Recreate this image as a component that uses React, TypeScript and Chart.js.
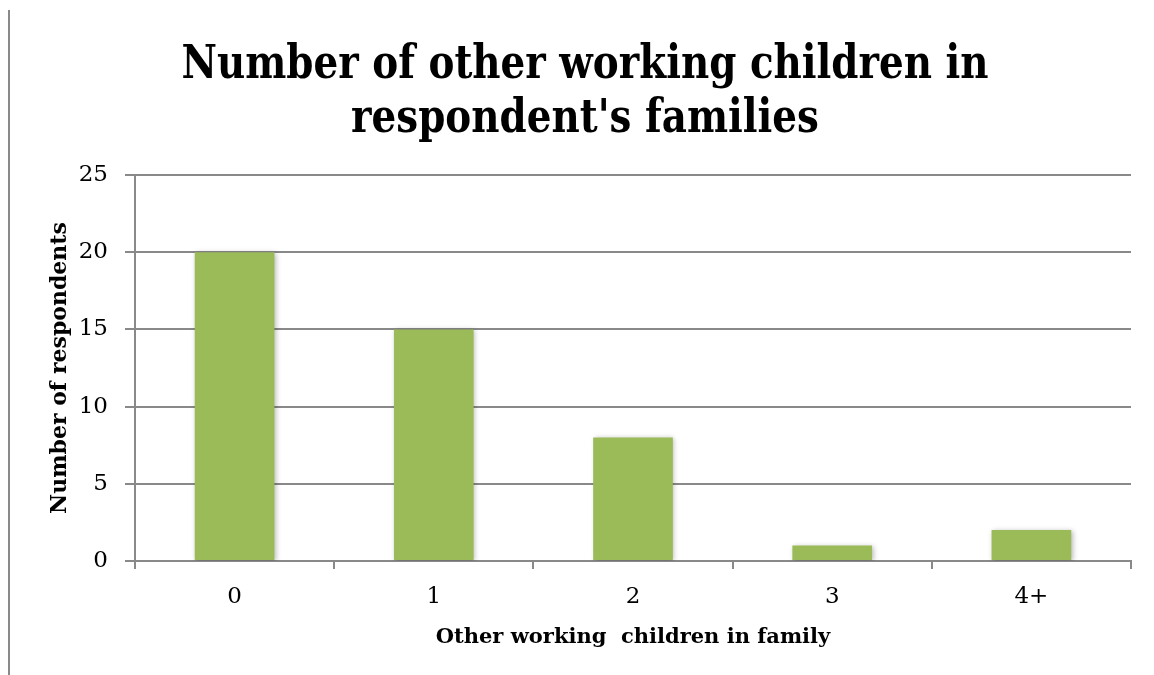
import React, { useEffect, useRef } from "react";
import { Chart, registerables } from "chart.js";

Chart.register(...registerables);

const categories: string[] = ["0", "1", "2", "3", "4+"];
const respondents: number[] = [20, 15, 8, 1, 2];
const yTicks: number[] = [0, 5, 10, 15, 20, 25];
const titleLines: string[] = ["Number of other working children in", "respondent's families"];
const xAxisTitle = "Other working  children in family";
const yAxisTitle = "Number of respondents";

const GRID = "#898989";
const BAR = "#9bbb59";
const SERIF = "'DejaVu Serif', serif";

export default function App() {
  const ref = useRef<HTMLCanvasElement | null>(null);

  useEffect(() => {
    if (!ref.current) return;
    const framePlugin = {
      id: "frame",
      beforeDraw(chart: any) {
        const ctx = chart.ctx;
        ctx.save();
        ctx.fillStyle = GRID;
        ctx.fillRect(0, 2, 2, chart.height - 2);
        ctx.restore();
      },
      afterDraw(chart: any) {
        const ctx = chart.ctx;
        ctx.save();
        ctx.fillStyle = "#000";
        ctx.font = `bold 46px ${SERIF}`;
        ctx.textAlign = "center";
        ctx.textBaseline = "alphabetic";
        ctx.translate(577, 0);
        ctx.scale(0.845, 1);
        ctx.fillText(titleLines[0], 0, 70);
        ctx.fillText(titleLines[1], 0, 124);
        ctx.restore();
      },
    };
    const shadowPlugin = {
      id: "barShadow",
      beforeDatasetsDraw(chart: any) {
        const ctx = chart.ctx;
        ctx.save();
        ctx.shadowColor = "rgba(0,0,0,0.28)";
        ctx.shadowBlur = 5;
        ctx.shadowOffsetX = 1.5;
        ctx.shadowOffsetY = 1;
      },
      afterDatasetsDraw(chart: any) {
        chart.ctx.restore();
      },
    };

    const chart = new Chart(ref.current, {
      type: "bar",
      data: {
        labels: categories,
        datasets: [
          {
            label: "Respondents",
            data: respondents,
            backgroundColor: BAR,
            borderWidth: 0,
            barPercentage: 0.4,
            categoryPercentage: 1,
          },
        ],
      },
      options: {
        responsive: false,
        animation: false,
        devicePixelRatio: 1,
        layout: { padding: { top: 167, right: 15, left: 0, bottom: 0 } },
        plugins: {
          legend: { display: false },
          tooltip: { enabled: false },
          title: { display: false },
        },
        scales: {
          x: {
            afterFit(scale: any) {
              scale.height = 114;
            },
            grid: {
              offset: true,
              drawOnChartArea: false,
              drawTicks: true,
              tickLength: 8,
              color: GRID,
              lineWidth: 2,
            },
            border: { display: true, color: GRID, width: 2 },
            ticks: {
              color: "#000",
              font: { family: SERIF, size: 23 },
              padding: 14,
            },
            title: {
              display: true,
              text: xAxisTitle,
              color: "#000",
              font: { family: SERIF, size: 21, weight: "bold" },
              padding: { top: 0, bottom: 25 },
            },
          },
          y: {
            min: 0,
            max: 25,
            afterFit(scale: any) {
              scale.width = 127;
            },
            afterBuildTicks(scale: any) {
              scale.ticks = yTicks.map((v) => ({ value: v }));
            },
            grid: {
              drawTicks: true,
              tickLength: 10,
              color: GRID,
              lineWidth: 2,
            },
            border: { display: true, color: GRID, width: 2 },
            ticks: {
              color: "#000",
              font: { family: SERIF, size: 23 },
              padding: 17,
            },
            title: {
              display: true,
              text: yAxisTitle,
              color: "#000",
              font: { family: SERIF, size: 22, weight: "bold" },
              padding: { top: 39, bottom: 0 },
            },
          },
        },
      },
      plugins: [framePlugin, shadowPlugin],
    });
    return () => chart.destroy();
  }, []);

  return (
    <div style={{ width: 1138, height: 667 }}>
      <canvas ref={ref} width={1138} height={667} style={{ display: "block" }} />
    </div>
  );
}
